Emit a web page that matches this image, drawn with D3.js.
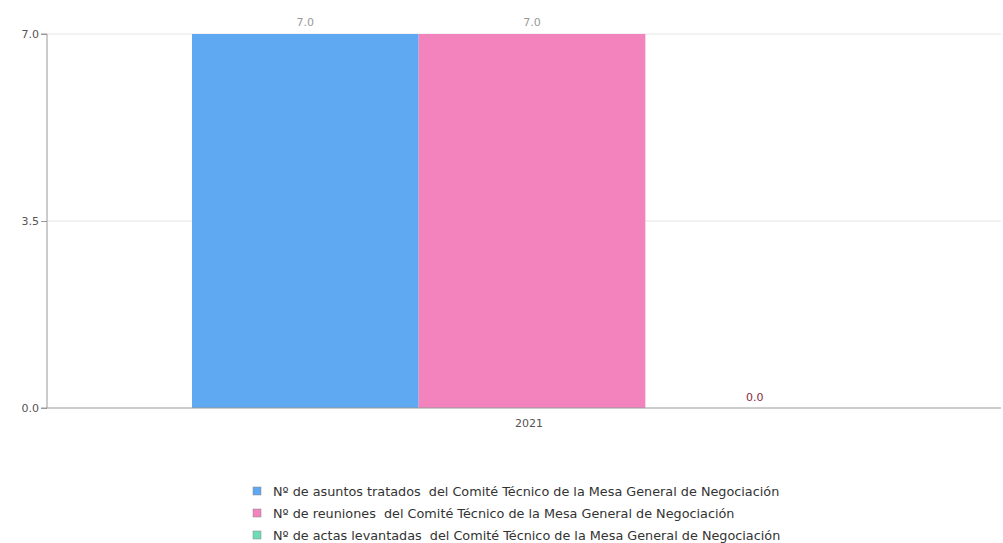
<!DOCTYPE html>
<html><head><meta charset="utf-8">
<script src="https://cdn.jsdelivr.net/npm/d3@7"></script>
<style>body{margin:0;background:#fff;}svg{display:block;font-family:"DejaVu Sans",sans-serif;}</style>
</head><body>
<svg id="c" width="1003" height="543"></svg>
<script>
const categories = ["2021"];
const seriesNames = [
  "Nº de asuntos tratados  del Comité Técnico de la Mesa General de Negociación",
  "Nº de reuniones  del Comité Técnico de la Mesa General de Negociación",
  "Nº de actas levantadas  del Comité Técnico de la Mesa General de Negociación"
];
const asuntos = [7.0];
const reuniones = [7.0];
const actas = [0.0];
const yTicks = [0, 3.5, 7.0];
const colors = ["#5fa8f2", "#f283bc", "#6cdcb4"];

const series = [asuntos, reuniones, actas];
const svg = d3.select("#c");
const m = {l:47, r:1001, t:34, b:408};
const x0 = d3.scaleBand().domain(categories).range([m.l, 1017]).paddingInner(0).paddingOuter(0.2132);
const x1 = d3.scaleBand().domain(d3.range(series.length)).range([0, x0.bandwidth()]);
const y = d3.scaleLinear().domain([0, 7]).range([m.b, m.t]);

// grid
svg.append("g").selectAll("line").data(yTicks.filter(d=>d>0)).join("line")
  .attr("x1", m.l).attr("x2", m.r).attr("y1", d=>y(d)).attr("y2", d=>y(d))
  .attr("stroke", "#e6e6e6");

// bars
categories.forEach((c, ci) => {
  series.forEach((s, si) => {
    svg.append("rect").attr("x", x0(c) + x1(si)).attr("width", x1.bandwidth())
      .attr("y", y(s[ci])).attr("height", y(0) - y(s[ci])).attr("fill", colors[si]);
    svg.append("text").attr("x", x0(c) + x1(si) + x1.bandwidth()/2 - (s[ci] > 0 ? 0 : 4))
      .attr("y", y(s[ci]) - (s[ci] > 0 ? 8 : 7)).attr("text-anchor", "middle")
      .attr("font-size", 11).attr("fill", s[ci] > 0 ? "#999" : "#8b2a3a")
      .text(s[ci].toFixed(1));
  });
});

// y axis
const ya = svg.append("g").attr("transform", `translate(${m.l},0)`)
  .call(d3.axisLeft(y).tickValues(yTicks).tickFormat(d3.format(".1f")).tickSize(6).tickPadding(2));
ya.select(".domain").attr("stroke", "#999").attr("d", `M-6,${m.t}H0V${m.b}H-6`);
ya.selectAll(".tick line").attr("stroke", "#999");
ya.selectAll("text").attr("fill", "#555").attr("font-size", 11).attr("font-family", "DejaVu Sans");

// x axis
const xa = svg.append("g").attr("transform", `translate(0,${m.b})`)
  .call(d3.axisBottom(x0).tickSize(0).tickPadding(11));
xa.select(".domain").attr("stroke", "#999").attr("d", `M${m.l},0H${m.r}`);
xa.selectAll("text").attr("fill", "#555").attr("font-size", 11).attr("font-family", "DejaVu Sans").attr("dx", -3);

// legend
const lg = svg.append("g");
seriesNames.forEach((n, i) => {
  const yy = 491 + i*22;
  lg.append("rect").attr("x", 253).attr("y", yy - 4).attr("width", 8).attr("height", 8)
    .attr("fill", colors[i]).attr("stroke", "#888").attr("stroke-width", 0.5);
  lg.append("text").attr("x", 273).attr("y", yy + 5).attr("font-size", 12.8).attr("fill", "#333")
    .style("white-space", "pre").text(n);
});
</script>
</body></html>
